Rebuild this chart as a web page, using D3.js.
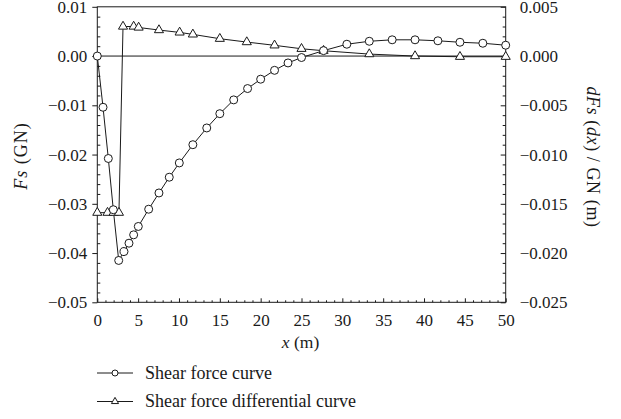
<!DOCTYPE html>
<html>
<head>
<meta charset="utf-8">
<script src="https://cdn.jsdelivr.net/npm/d3@7"></script>
<style>
  html, body { margin: 0; padding: 0; background: #fff; }
  svg { display: block; }
</style>
</head>
<body>
<svg id="chart" width="621" height="419"></svg>
<script>
// Shear force curve (left axis, GN)
const shearX = [0, 0.7, 1.35, 1.96, 2.62, 3.27, 3.88, 4.45, 5.02, 6.29, 7.55, 8.81, 10.04, 11.7, 13.4, 15.0, 16.7, 18.4, 20.0, 21.7, 23.35, 25.0, 27.7, 30.55, 33.3, 36.1, 38.9, 41.7, 44.4, 47.2, 50];
const shearY = [0, -0.0104, -0.0208, -0.0312, -0.0415, -0.0397, -0.0380, -0.0363, -0.0346, -0.0311, -0.0278, -0.0246, -0.0217, -0.0180, -0.0146, -0.0117, -0.0089, -0.0066, -0.0047, -0.0029, -0.0014, -0.0003, 0.0011, 0.0024, 0.0030, 0.0033, 0.0033, 0.0031, 0.0028, 0.0026, 0.0022];
// Shear force differential curve (right axis)
const diffX = [0, 1.25, 2.0, 2.65, 3.15, 4.45, 5.06, 7.55, 10.08, 11.7, 15.0, 18.3, 21.7, 25.0, 27.7, 33.3, 38.9, 44.4, 50];
const diffY = [-0.0159, -0.0159, -0.0159, -0.0159, 0.0030, 0.0030, 0.0029, 0.00264, 0.0024, 0.0022, 0.00176, 0.00142, 0.00109, 0.00074, 0.00054, 0.0002, 0.0, -0.00007, -0.00007];

const xTicks = [0, 5, 10, 15, 20, 25, 30, 35, 40, 45, 50];
const yLeftTicks = [-0.05, -0.04, -0.03, -0.02, -0.01, 0.00, 0.01];
const yRightTicks = [-0.025, -0.020, -0.015, -0.010, -0.005, 0.000, 0.005];
const legendLabels = ["Shear force curve", "Shear force differential curve"];

const FONT = "Liberation Serif, DejaVu Serif, serif";
const INK = "#1a1a1a";
const svg = d3.select("#chart");
const L = 97.3, R = 505.7, T = 6.8, B = 302.3;

const x = d3.scaleLinear().domain([0, 50]).range([L, R]);
const yL = d3.scaleLinear().domain([-0.05, 0.01]).range([B, T]);
const yR = d3.scaleLinear().domain([-0.025, 0.005]).range([B, T]);

const fmtL = v => (v < 0 ? "\u2212" : "") + Math.abs(v).toFixed(2);
const fmtR = v => (v < 0 ? "\u2212" : "") + Math.abs(v).toFixed(3);

const g = svg.append("g");
g.append("rect").attr("x", L).attr("y", T).attr("width", R - L).attr("height", B - T)
  .attr("fill", "none").attr("stroke", INK).attr("stroke-width", 1);

// Zero line
g.append("line").attr("x1", L).attr("x2", R).attr("y1", yL(0)).attr("y2", yL(0))
  .attr("stroke", INK).attr("stroke-width", 1);

const styleAxis = sel => {
  sel.attr("font-family", FONT).attr("font-size", 17);
  sel.select(".domain").remove();
  sel.selectAll(".tick line").attr("stroke", INK);
  sel.selectAll(".tick text").attr("fill", INK).attr("font-family", FONT).attr("font-size", 17);
};

// X axis
const xMinor = d3.range(0, 51, 1).filter(v => v % 5 !== 0);
g.append("g").attr("transform", `translate(0,${B})`)
  .call(d3.axisBottom(x).tickValues(xTicks).tickSizeInner(-4).tickSizeOuter(0).tickPadding(12).tickFormat(d3.format("d")))
  .call(styleAxis);
g.append("g").attr("transform", `translate(0,${B})`)
  .call(d3.axisBottom(x).tickValues(xMinor).tickSizeInner(-2).tickSizeOuter(0).tickFormat(""))
  .call(styleAxis);

// Left axis
const yLMinor = d3.range(-50, 11, 2).map(v => v / 1000).filter(v => Math.abs(Math.round(v * 1000)) % 10 !== 0);
g.append("g").attr("transform", `translate(${L},0)`)
  .call(d3.axisLeft(yL).tickValues(yLeftTicks).tickSizeInner(5).tickSizeOuter(0).tickPadding(5).tickFormat(fmtL))
  .call(styleAxis);
g.append("g").attr("transform", `translate(${L},0)`)
  .call(d3.axisLeft(yL).tickValues(yLMinor).tickSizeInner(-3).tickSizeOuter(0).tickFormat(""))
  .call(styleAxis);

// Right axis
const yRMinor = d3.range(-25, 6, 1).map(v => v / 1000).filter(v => Math.abs(Math.round(v * 1000)) % 5 !== 0);
g.append("g").attr("transform", `translate(${R},0)`)
  .call(d3.axisRight(yR).tickValues(yRightTicks).tickSizeInner(-5).tickSizeOuter(0).tickPadding(14).tickFormat(fmtR))
  .call(styleAxis);
g.append("g").attr("transform", `translate(${R},0)`)
  .call(d3.axisRight(yR).tickValues(yRMinor).tickSizeInner(-3).tickSizeOuter(0).tickFormat(""))
  .call(styleAxis);

// Series
const shear = shearX.map((v, i) => [v, shearY[i]]);
const diff = diffX.map((v, i) => [v, diffY[i]]);

g.append("path").datum(diff)
  .attr("d", d3.line().x(d => x(d[0])).y(d => yR(d[1])))
  .attr("fill", "none").attr("stroke", INK).attr("stroke-width", 1);
g.append("path").datum(shear)
  .attr("d", d3.line().x(d => x(d[0])).y(d => yL(d[1])))
  .attr("fill", "none").attr("stroke", INK).attr("stroke-width", 1);

const tri = d3.symbol().type(d3.symbolTriangle).size(36);
g.selectAll(".tri").data(diff).enter().append("path")
  .attr("transform", d => `translate(${x(d[0])},${yR(d[1])})`)
  .attr("d", tri).attr("fill", "#fff").attr("stroke", INK).attr("stroke-width", 1);
g.selectAll(".circ").data(shear).enter().append("circle")
  .attr("cx", d => x(d[0])).attr("cy", d => yL(d[1])).attr("r", 4)
  .attr("fill", "#fff").attr("stroke", INK).attr("stroke-width", 1);

// Axis titles
const txt = (sel, fs) => sel.attr("font-family", FONT).attr("font-size", fs).attr("fill", INK);
const xt = svg.append("text").attr("x", (L + R) / 2 - 1).attr("y", 348).attr("text-anchor", "middle").call(txt, 17.5);
xt.append("tspan").attr("font-style", "italic").text("x");
xt.append("tspan").text(" (m)");

const ylt = svg.append("text").attr("transform", `translate(27,156) rotate(-90)`)
  .attr("text-anchor", "middle").attr("letter-spacing", 1).call(txt, 18);
ylt.append("tspan").attr("font-style", "italic").text("Fs");
ylt.append("tspan").text(" (GN)");

const yrt = svg.append("text").attr("transform", `translate(587,157) rotate(90)`)
  .attr("text-anchor", "middle").attr("letter-spacing", 0.6).call(txt, 18);
yrt.append("tspan").attr("font-style", "italic").text("dFs");
yrt.append("tspan").text(" (");
yrt.append("tspan").attr("font-style", "italic").text("dx");
yrt.append("tspan").text(") / GN (m)");

// Legend
const lg = svg.append("g");
legendLabels.forEach((lab, i) => {
  const yy = 373 + i * 28.5;
  lg.append("line").attr("x1", 97).attr("x2", 133).attr("y1", yy).attr("y2", yy)
    .attr("stroke", INK).attr("stroke-width", 1);
  if (i === 0) {
    lg.append("circle").attr("cx", 115).attr("cy", yy).attr("r", 3)
      .attr("fill", "#fff").attr("stroke", INK);
  } else {
    lg.append("path").attr("transform", `translate(115,${yy})`)
      .attr("d", d3.symbol().type(d3.symbolTriangle).size(22))
      .attr("fill", "#fff").attr("stroke", INK);
  }
  lg.append("text").attr("x", 145).attr("y", yy + 5.5).call(txt, 18).text(lab);
});
</script>
</body>
</html>
